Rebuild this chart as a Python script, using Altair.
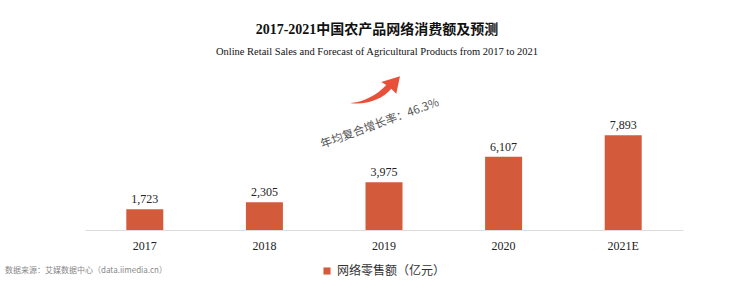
import altair as alt
import pandas as pd

years = ["2017", "2018", "2019", "2020", "2021E"]
sales = [1723, 2305, 3975, 6107, 7893]
series_name = "网络零售额（亿元）"

title_text = "2017-2021中国农产品网络消费额及预测"
subtitle_text = "Online Retail Sales and Forecast of Agricultural Products from 2017 to 2021"
cagr_text = "年均复合增长率：46.3%"
source_text = "数据来源：艾媒数据中心（data.iimedia.cn）"

df = pd.DataFrame({"year": years, "sales": sales, "series": [series_name] * len(years)})

BAR = "#D35A3A"
SERIF = "Liberation Serif, Noto Sans CJK SC"

x = alt.X("year:N", sort=years,
          axis=alt.Axis(title=None, labelAngle=0, ticks=False, domainColor="#DDDDDD",
                        labelFont="Liberation Serif", labelFontSize=12, labelColor="#222222",
                        labelPadding=10),
          scale=alt.Scale(paddingInner=0, paddingOuter=0))
y = alt.Y("sales:Q", scale=alt.Scale(domain=[0, 10000], nice=False), axis=None)

base = alt.Chart(df)

bars = base.mark_bar(size=37).encode(
    x=x, y=y,
    color=alt.Color("series:N", scale=alt.Scale(range=[BAR]),
                    legend=alt.Legend(title=None, orient="none", legendX=236, legendY=155,
                                      symbolType="square", symbolSize=50,
                                      labelFont="Noto Sans CJK SC", labelFontSize=12,
                                      labelColor="#333333")),
)

labels = base.mark_text(dy=-10, font="Liberation Serif", fontSize=12, color="#222222").encode(
    x=x, y=y, text=alt.Text("sales:Q", format=",")
)

def fixed_text(txt, xv, yv, **kw):
    return alt.Chart(pd.DataFrame({"t": [txt]})).mark_text(**kw).encode(
        x=alt.value(xv), y=alt.value(yv), text="t:N")

title = fixed_text(title_text, 292, -80, font=SERIF, fontSize=14, fontWeight="bold", color="#111111")
subtitle = fixed_text(subtitle_text, 292, -58, font="Liberation Serif", fontSize=10.5, color="#111111")
cagr = fixed_text(cagr_text, 295, 14, font="Noto Sans CJK SC", fontSize=11.5, color="#555555", angle=340)
source = fixed_text(source_text, -80, 161, font="Noto Sans CJK SC", fontSize=8, color="#888888", align="left")

arrow_path = ("M -1 0.52 C -0.5 0.5 0.1 0.2 0.45 -0.2 L 0.25 -0.32 L 1 -0.55 L 0.85 0.15 "
              "L 0.65 -0.05 C 0.3 0.38 -0.4 0.62 -1 0.52 Z")
arrow = alt.Chart(pd.DataFrame({"a": [1]})).mark_point(
    shape=arrow_path, filled=True, color="#E8503A", opacity=1, size=2500, strokeWidth=0
).encode(x=alt.value(290), y=alt.value(-20))

chart = alt.layer(bars, labels, title, subtitle, cagr, source, arrow).properties(
    width=598, height=120,
    autosize=alt.AutoSizeParams(type="none"),
    padding={"left": 85, "top": 110, "right": 67, "bottom": 59},
    background="white",
).configure_view(stroke=None)

chart.save("out.html", embed_options={"renderer": "svg", "actions": False})
